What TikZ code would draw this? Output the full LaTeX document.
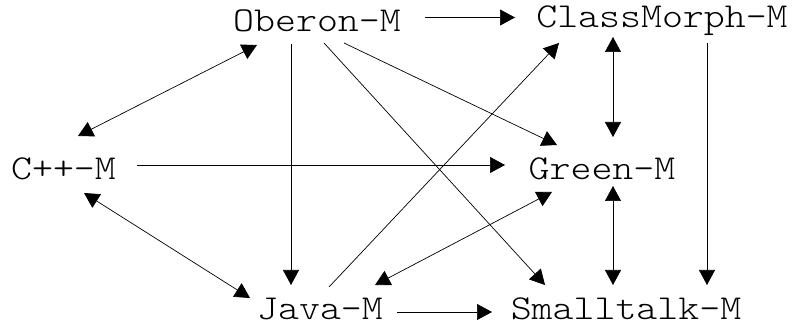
\documentclass[tikz,border=0pt]{standalone}
\usepackage{fontspec}
\newfontfamily\labelfont{lmmonolt10-regular.otf}[FakeStretch=1.14]
\usetikzlibrary{arrows.meta}
\tikzset{
  lbl/.style={anchor=base, inner sep=0pt, font=\labelfont\fontsize{35}{40}\selectfont},
  link/.style={draw=black, line width=0.7pt,
    -{Triangle[length=15pt,width=16pt]}},
  bilink/.style={draw=black, line width=0.7pt,
    {Triangle[length=15pt,width=16pt]}-{Triangle[length=15pt,width=16pt]}},
}
\begin{document}
\begin{tikzpicture}[x=1pt,y=-1pt]
\useasboundingbox (0,0) rectangle (798,328);

% language nodes (placed on their baselines)
\node[lbl] (ober)  at (317,32)   {Oberon-M};
\node[lbl] (cm)    at (662,28)   {ClassMorph-M};
\node[lbl] (cpp)   at (63.5,180) {C++-M};
\node[lbl] (green) at (602,180)  {Green-M};
\node[lbl] (java)  at (320,320)  {Java-M};
\node[lbl] (small) at (626,320)  {Smalltalk-M};

% one-way links
\draw[link] ([shift={(108,-14.5)}]ober.base) -- ([shift={(-147,-10.5)}]cm.base);
\draw[link] ([shift={(-26,12)}]ober.base)    -- ([shift={(-29,-35)}]java.base);
\draw[link] ([shift={(27,11)}]ober.base)     -- ([shift={(-45,-35)}]green.base);
\draw[link] ([shift={(7,11)}]ober.base)      -- ([shift={(-81,-35)}]small.base);
\draw[link] ([shift={(45,15)}]cm.base)       -- ([shift={(81,-35)}]small.base);
\draw[link] ([shift={(73.5,-15)}]cpp.base)   -- ([shift={(-97,-15)}]green.base);
\draw[link] ([shift={(9,-33)}]java.base)     -- ([shift={(-103,15)}]cm.base);
\draw[link] ([shift={(77,-8)}]java.base)     -- ([shift={(-134,-8)}]small.base);

% two-way links
\draw[bilink] ([shift={(14.5,-44)}]cpp.base) -- ([shift={(-60,13)}]ober.base);
\draw[bilink] ([shift={(-49,9)}]cm.base)     -- ([shift={(11,-43)}]green.base);
\draw[bilink] ([shift={(20.5,13)}]cpp.base)  -- ([shift={(-70,-22)}]java.base);
\draw[bilink] ([shift={(-50,12)}]green.base) -- ([shift={(55,-35)}]java.base);
\draw[bilink] ([shift={(11,6)}]green.base)   -- ([shift={(-13,-35)}]small.base);
\end{tikzpicture}
\end{document}
